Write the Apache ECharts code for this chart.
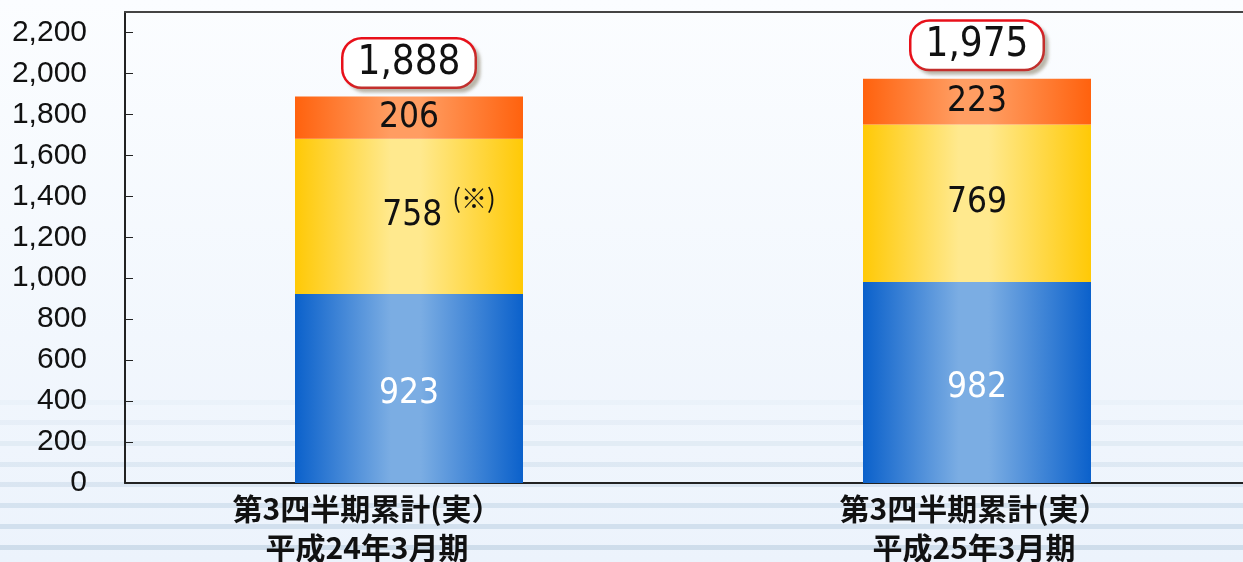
<!DOCTYPE html>
<html>
<head>
<meta charset="utf-8">
<script src="https://cdn.jsdelivr.net/npm/echarts@6/dist/echarts.min.js"></script>
<style>
html, body { margin: 0; padding: 0; }
#bar-chart { width: 1243px; height: 562px; }
</style>
</head>
<body>
<div id="bar-chart"></div>
<script>
// ==============================================================
// data
// ==============================================================
var categories = ['第3四半期累計(実）\n平成24年3月期', '第3四半期累計(実）\n平成25年3月期'];
var blueValues = [923, 982];
var yellowValues = [758, 769];
var orangeValues = [206, 223];
var totals = [1888, 1975];
var yTicks = ['0', '200', '400', '600', '800', '1,000', '1,200', '1,400', '1,600', '1,800', '2,000', '2,200'];

var numFont = '"Liberation Sans Narrow", "DejaVu Sans Condensed", sans-serif';
var jpFont = '"Noto Sans CJK JP", sans-serif';

function grad(edge, mid) {
    return new echarts.graphic.LinearGradient(0, 0, 1, 0, [
        {offset: 0, color: edge},
        {offset: 0.42, color: mid},
        {offset: 0.55, color: mid},
        {offset: 1, color: edge}
    ]);
}

// background stripes (decoration only)
var stripes = [];
var stripeY = [400, 420, 441, 462, 482, 503, 524, 545];
stripeY.forEach(function (y, i) {
    stripes.push({
        type: 'rect',
        z: -1,
        shape: {x: 0, y: y, width: 1243, height: 5},
        style: {fill: '#c4d6e6', opacity: 0.12 + i * 0.09}
    });
});

var myChart = echarts.init(document.getElementById('bar-chart'));

option = {
    backgroundColor: new echarts.graphic.LinearGradient(0, 0, 0, 1, [
        {offset: 0, color: '#fbfdff'},
        {offset: 1, color: '#ecf3fc'}
    ]),
    animation: false,
    graphic: stripes,
    // plot runs a bit past the right edge of the picture
    grid: {left: 125, width: 1136, top: 12, bottom: 79, outerBoundsMode: 'none'},
    xAxis: [
        {
            type: 'category',
            data: categories,
            axisLine: {lineStyle: {color: '#222', width: 2}},
            axisTick: {inside: true, length: 8, lineStyle: {color: '#222', width: 2}},
            axisLabel: {
                margin: 6,
                // first label sits a little left of its bar in the original
                formatter: function (v, i) {
                    var s = i === 0 ? 'l' : 'c';
                    return v.split('\n').map(function (t) { return '{' + s + '|' + t + '}'; }).join('\n');
                },
                rich: {
                    l: {color: '#111', fontFamily: jpFont, fontWeight: 'bold', fontSize: 30, lineHeight: 39, padding: [0, 84, 0, 0]},
                    c: {color: '#111', fontFamily: jpFont, fontWeight: 'bold', fontSize: 30, lineHeight: 39, padding: [0, 6, 0, 0]}
                }
            }
        },
        {
            type: 'category',
            position: 'top',
            data: categories,
            axisLine: {lineStyle: {color: '#444', width: 2}},
            axisTick: {show: false},
            axisLabel: {show: false}
        }
    ],
    yAxis: {
        type: 'value',
        min: 0,
        max: 2300,
        interval: 200,
        splitLine: {show: false},
        axisLine: {show: true, lineStyle: {color: '#222', width: 2}},
        axisTick: {show: true, inside: true, length: 8, lineStyle: {color: '#222'}},
        axisLabel: {
            showMaxLabel: false,
            color: '#111',
            fontFamily: '"Liberation Sans", sans-serif',
            fontSize: 30,
            margin: 38,
            formatter: function (v) { return yTicks[v / 200] || ''; }
        }
    },
    series: [
        {
            name: 'blue',
            type: 'bar',
            stack: 'total',
            barWidth: 228,
            data: blueValues,
            itemStyle: {color: grad('#0b61cb', '#7badE3')},
            label: {show: true, position: 'inside', color: '#fff', fontFamily: numFont, fontSize: 35, offset: [0, 5]}
        },
        {
            name: 'yellow',
            type: 'bar',
            stack: 'total',
            data: yellowValues.map(function (v, i) {
                if (i === 0) {
                    return {
                        value: v,
                        label: {
                            formatter: '{v|{c}}{n|(※)}',
                            offset: [30, 0]
                        }
                    };
                }
                return v;
            }),
            itemStyle: {color: grad('#ffc906', '#ffe98e')},
            label: {
                show: true, position: 'inside', color: '#111', fontFamily: numFont, fontSize: 35,
                rich: {
                    v: {fontFamily: numFont, fontSize: 35, color: '#111'},
                    n: {fontFamily: jpFont, fontSize: 26, color: '#111', padding: [0, 0, 36, 10]}
                }
            }
        },
        {
            name: 'orange',
            type: 'bar',
            stack: 'total',
            data: orangeValues,
            itemStyle: {color: grad('#ff620e', '#ff9d62')},
            label: {show: true, position: 'inside', color: '#111', fontFamily: numFont, fontSize: 35}
        },
        {
            name: 'total',
            type: 'bar',
            stack: 'total',
            data: totals.map(function () { return 0; }),
            itemStyle: {color: 'transparent'},
            label: {
                show: true,
                position: 'top',
                distance: 10,
                formatter: function (p) { return echarts.format.addCommas(totals[p.dataIndex]); },
                color: '#111',
                fontFamily: numFont,
                fontSize: 40,
                backgroundColor: '#fff',
                borderColor: '#e8101a',
                borderWidth: 2.5,
                borderRadius: 18,
                padding: [4, 14, 3, 14],
                shadowColor: 'rgba(120,110,80,0.35)',
                shadowBlur: 3,
                shadowOffsetX: 4,
                shadowOffsetY: 4
            }
        }
    ]
};

myChart.setOption(option, true);
</script>
</body>
</html>
